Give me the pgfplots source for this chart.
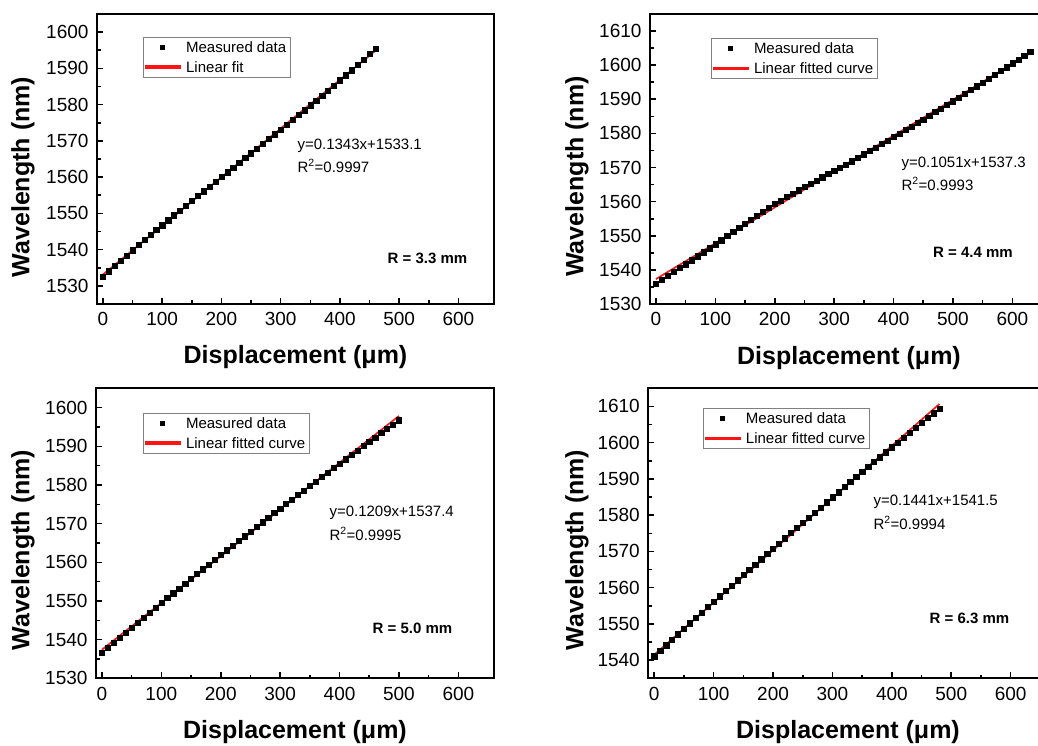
\documentclass[border=0pt]{standalone}
\usepackage{pgfplots}
\pgfplotsset{compat=1.18}
\usepackage{fontspec}
\setmainfont{Liberation Sans}
\definecolor{fitred}{RGB}{255,20,20}
\pgfplotsset{
  panel/.style={
    scale only axis, width=#1, height=290pt, anchor=south west,
    axis line style={line width=2pt},
    tick style={line width=1.6pt, black},
    major tick length=6pt, minor tick length=3.5pt,
    tick align=inside, xtick pos=bottom, ytick pos=left,
    xmin=-10, xmax=660, xtick={0,100,...,600}, minor x tick num=1,
    minor y tick num=1,
    scaled ticks=false,
    /pgf/number format/assume math mode=true,
    /pgf/number format/1000 sep={},
    ticklabel style={font=\fontsize{19}{19}\selectfont},
    xticklabel style={yshift=-5pt},
    yticklabel style={xshift=-5pt},
    legend cell align=left,
    legend style={draw=gray, line width=0.8pt, anchor=north west,
      font=\fontsize{15}{16}\selectfont, inner xsep=2pt, inner ysep=2pt,
      row sep=3.5pt, /tikz/every even column/.append style={column sep=2pt},
      /tikz/every odd column/.append style={column sep=3pt}},
  },
  mymeas/.style={only marks, mark=square*, mark size=2.6pt, black,
    legend image code/.code={\fill[black] (14pt,-2pt) rectangle (18pt,2pt);}},
  myfit/.style={color=fitred, line width=1.7pt, no marks,
    legend image code/.code={\fill[fitred] (0pt,-1.1pt) rectangle (34pt,1.1pt);}},
}
\newcommand{\lab}{\fontsize{25}{25}\selectfont\bfseries}
\newcommand{\ann}{\fontsize{15}{15}\selectfont}
\newcommand{\rad}{\fontsize{15}{15}\selectfont\bfseries}
\begin{document}
\begin{tikzpicture}[x=1pt,y=1pt]
% ---------------- Panel 1 ----------------
\begin{axis}[panel=397pt, at={(97pt,441pt)}, ymin=1525, ymax=1605,
  ytick={1530,1540,...,1600},
  legend style={at={(0.116,0.921)}}]
\addplot[mymeas] coordinates {
(0,1532.60) (10,1534.04) (20,1535.49) (30,1536.93) (40,1538.37) (50,1539.82)
(60,1541.26) (70,1542.63) (80,1544.01) (90,1545.39) (100,1546.76) (110,1548.14)
(120,1549.52) (130,1550.84) (140,1552.15) (150,1553.48) (160,1554.79) (170,1556.11)
(180,1557.42) (190,1558.75) (200,1560.06) (210,1561.36) (220,1562.68) (230,1563.98)
(240,1565.28) (250,1566.59) (260,1567.89) (270,1569.20) (280,1570.50) (290,1571.84)
(300,1573.16) (310,1574.49) (320,1575.83) (330,1577.16) (340,1578.48) (350,1579.82)
(360,1581.15) (370,1582.54) (380,1583.93) (390,1585.33) (400,1586.72) (410,1588.11)
(420,1589.51) (430,1591.00) (440,1592.49) (450,1593.99) (460,1595.48)};
\addlegendentry{Measured data}
\addplot[myfit] coordinates {(0,1533.1) (460,1594.88)};
\addlegendentry{Linear fit}
\end{axis}
% ---------------- Panel 2 ----------------
\begin{axis}[panel=398pt, at={(650pt,441pt)}, ymin=1530, ymax=1615,
  ytick={1530,1540,...,1610},
  legend style={at={(0.153,0.917)}}]
\addplot[mymeas] coordinates {
(0,1536.00) (10,1537.15) (20,1538.30) (30,1539.45) (40,1540.55) (50,1541.66)
(60,1542.81) (70,1544.01) (80,1545.16) (90,1546.36) (100,1547.51) (110,1548.71)
(120,1549.91) (130,1551.11) (140,1552.31) (150,1553.57) (160,1554.72) (170,1555.87)
(180,1557.07) (190,1558.22) (200,1559.32) (210,1560.37) (220,1561.37) (230,1562.37)
(240,1563.37) (250,1564.38) (260,1565.33) (270,1566.23) (280,1567.18) (290,1568.08)
(300,1569.03) (310,1569.98) (320,1570.93) (330,1571.88) (340,1572.88) (350,1573.89)
(360,1574.89) (370,1575.89) (380,1576.89) (390,1577.89) (400,1578.94) (410,1579.94)
(420,1580.99) (430,1581.99) (440,1583.04) (450,1584.10) (460,1585.15) (470,1586.25)
(480,1587.30) (490,1588.40) (500,1589.45) (510,1590.55) (520,1591.65) (530,1592.75)
(540,1593.85) (550,1594.91) (560,1596.06) (570,1597.21) (580,1598.31) (590,1599.41)
(600,1600.56) (610,1601.71) (620,1602.86) (630,1604.01)};
\addlegendentry{Measured data}
\addplot[myfit] coordinates {(0,1537.3) (630,1603.51)};
\addlegendentry{Linear fitted curve}
\end{axis}
% ---------------- Panel 3 ----------------
\begin{axis}[panel=398pt, at={(96pt,66.7pt)}, ymin=1530, ymax=1605,
  ytick={1530,1540,...,1600},
  legend style={at={(0.118,0.915)}}]
\addplot[mymeas] coordinates {
(0,1536.70) (10,1538.00) (20,1539.29) (30,1540.59) (40,1541.87) (50,1543.16)
(60,1544.43) (70,1545.70) (80,1546.97) (90,1548.24) (100,1549.50) (110,1550.76)
(120,1552.02) (130,1553.27) (140,1554.52) (150,1555.76) (160,1556.99) (170,1558.23)
(180,1559.46) (190,1560.69) (200,1561.91) (210,1563.13) (220,1564.35) (230,1565.56)
(240,1566.77) (250,1567.97) (260,1569.16) (270,1570.36) (280,1571.55) (290,1572.74)
(300,1573.92) (310,1575.10) (320,1576.28) (330,1577.45) (340,1578.62) (350,1579.78)
(360,1580.93) (370,1582.09) (380,1583.24) (390,1584.39) (400,1585.54) (410,1586.68)
(420,1587.81) (430,1588.95) (440,1590.07) (450,1591.20) (460,1592.31) (470,1593.43)
(480,1594.54) (490,1595.65) (500,1596.75)};
\addlegendentry{Measured data}
\addplot[myfit] coordinates {(0,1537.4) (500,1597.85)};
\addlegendentry{Linear fitted curve}
\end{axis}
% ---------------- Panel 4 ----------------
\begin{axis}[panel=398pt, at={(648.3pt,66.7pt)}, ymin=1535, ymax=1615,
  ytick={1540,1550,...,1610},
  legend style={at={(0.137,0.932)}}]
\addplot[mymeas] coordinates {
(0,1541.10) (10,1542.62) (20,1544.14) (30,1545.66) (40,1547.17) (50,1548.68)
(60,1550.18) (70,1551.68) (80,1553.17) (90,1554.66) (100,1556.15) (110,1557.63)
(120,1559.10) (130,1560.58) (140,1562.04) (150,1563.52) (160,1564.98) (170,1566.43)
(180,1567.88) (190,1569.33) (200,1570.77) (210,1572.21) (220,1573.64) (230,1575.07)
(240,1576.50) (250,1577.93) (260,1579.34) (270,1580.76) (280,1582.16) (290,1583.57)
(300,1584.97) (310,1586.36) (320,1587.75) (330,1589.14) (340,1590.52) (350,1591.91)
(360,1593.29) (370,1594.66) (380,1596.02) (390,1597.38) (400,1598.74) (410,1600.09)
(420,1601.44) (430,1602.79) (440,1604.13) (450,1605.47) (460,1606.80) (470,1608.13)
(480,1609.45)};
\addlegendentry{Measured data}
\addplot[myfit] coordinates {(0,1541.5) (480,1610.67)};
\addlegendentry{Linear fitted curve}
\end{axis}
% ---------------- Labels ----------------
\node[font=\lab] at (295.5,388) {Displacement (μm)};
\node[font=\lab] at (849,387) {Displacement (μm)};
\node[font=\lab] at (295,13) {Displacement (μm)};
\node[font=\lab] at (848,13) {Displacement (μm)};
\node[font=\lab, rotate=90] at (23,568) {Wavelength (nm)};
\node[font=\lab, rotate=90] at (577,568.5) {Wavelength (nm)};
\node[font=\lab, rotate=90] at (23,195) {Wavelength (nm)};
\node[font=\lab, rotate=90] at (577,195) {Wavelength (nm)};
% fit equations
\node[font=\ann, anchor=west] at (294,599) {y=0.1343x+1533.1};
\node[font=\ann, anchor=west] at (294,579) {R\textsuperscript{2}=0.9997};
\node[font=\ann, anchor=west] at (898,581) {y=0.1051x+1537.3};
\node[font=\ann, anchor=west] at (898,561) {R\textsuperscript{2}=0.9993};
\node[font=\ann, anchor=west] at (326,232) {y=0.1209x+1537.4};
\node[font=\ann, anchor=west] at (326,211) {R\textsuperscript{2}=0.9995};
\node[font=\ann, anchor=west] at (870,243) {y=0.1441x+1541.5};
\node[font=\ann, anchor=west] at (870,222) {R\textsuperscript{2}=0.9994};
% radii
\node[font=\rad] at (427.5,487) {R = 3.3 mm};
\node[font=\rad] at (973,493) {R = 4.4 mm};
\node[font=\rad] at (412.5,117) {R = 5.0 mm};
\node[font=\rad] at (969.5,127) {R = 6.3 mm};
\pgfresetboundingbox
\useasboundingbox (0,0) rectangle (1038,745);
\end{tikzpicture}
\end{document}
